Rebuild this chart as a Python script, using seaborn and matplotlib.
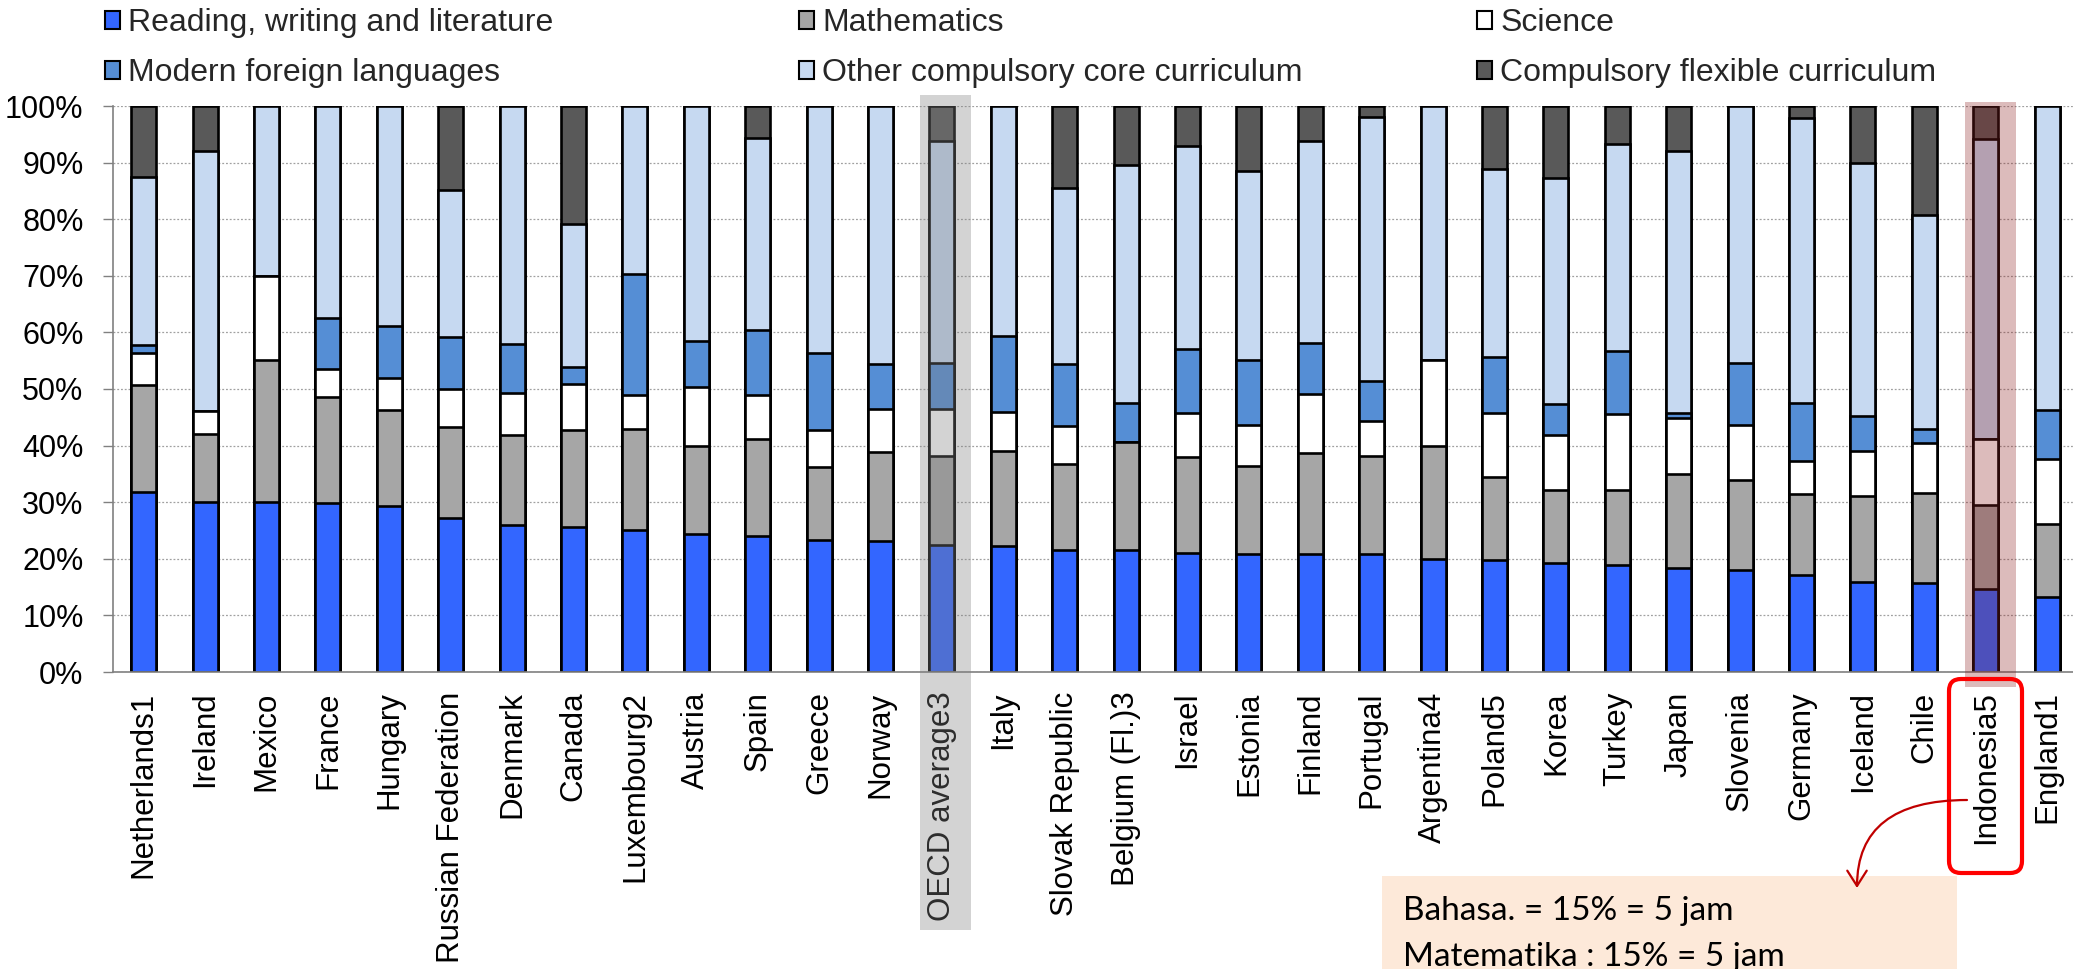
import matplotlib
matplotlib.use("Agg")
import matplotlib.pyplot as plt
import seaborn as sns
import pandas as pd
import numpy as np
from matplotlib.patches import Patch, Rectangle, FancyBboxPatch, FancyArrowPatch
from matplotlib.transforms import blended_transform_factory, IdentityTransform

# ---------------- data ----------------
countries = ["Netherlands1", "Ireland", "Mexico", "France", "Hungary", "Russian Federation",
             "Denmark", "Canada", "Luxembourg2", "Austria", "Spain", "Greece", "Norway",
             "OECD average3", "Italy", "Slovak Republic", "Belgium (Fl.)3", "Israel", "Estonia",
             "Finland", "Portugal", "Argentina4", "Poland5", "Korea", "Turkey", "Japan",
             "Slovenia", "Germany", "Iceland", "Chile", "Indonesia5", "England1"]

reading = [31.8, 30.1, 30.1, 29.9, 29.3, 27.2, 25.9, 25.7, 25.1, 24.3, 24.0, 23.4, 23.2,
           22.4, 22.3, 21.6, 21.6, 21.1, 20.9, 20.8, 20.8, 19.9, 19.8, 19.3, 18.9, 18.4,
           18.1, 17.2, 15.9, 15.7, 14.7, 13.2]
mathematics = [18.9, 12.0, 25.0, 18.7, 17.0, 16.0, 16.0, 17.1, 17.8, 15.6, 17.2, 12.8, 15.7,
               15.8, 16.7, 15.1, 19.0, 16.9, 15.5, 17.9, 17.4, 20.0, 14.7, 12.9, 13.3, 16.5,
               15.9, 14.3, 15.2, 15.9, 14.8, 13.0]
science = [5.7, 4.0, 14.9, 4.9, 5.7, 6.8, 7.4, 8.0, 6.0, 10.4, 7.7, 6.6, 7.5,
           8.2, 7.0, 6.7, 0.0, 7.8, 7.2, 10.5, 6.1, 15.2, 11.2, 9.7, 13.4, 9.9,
           9.6, 5.7, 8.0, 8.8, 11.7, 11.5]
modern_languages = [1.4, 0.0, 0.0, 9.1, 9.1, 9.1, 8.7, 3.0, 21.4, 8.1, 11.6, 13.6, 8.1,
                    8.2, 13.3, 11.0, 7.0, 11.2, 11.5, 8.9, 7.1, 0.0, 9.9, 5.4, 11.2, 1.0,
                    11.0, 10.4, 6.2, 2.6, 0.0, 8.6]
other_core = [29.7, 46.0, 30.0, 37.4, 38.9, 26.1, 42.0, 25.3, 29.7, 41.6, 33.8, 43.6, 45.5,
              39.2, 40.7, 31.1, 42.0, 36.0, 33.5, 35.8, 46.6, 44.9, 33.3, 39.9, 36.5, 46.2,
              45.4, 50.2, 44.6, 37.8, 52.9, 53.7]
flexible = [12.5, 7.9, 0.0, 0.0, 0.0, 14.8, 0.0, 20.9, 0.0, 0.0, 5.7, 0.0, 0.0,
            6.2, 0.0, 14.5, 10.4, 7.0, 11.4, 6.1, 2.0, 0.0, 11.1, 12.8, 6.7, 8.0,
            0.0, 2.2, 10.1, 19.2, 5.9, 0.0]

series_names = ["Reading, writing and literature", "Mathematics", "Science",
                "Modern foreign languages", "Other compulsory core curriculum",
                "Compulsory flexible curriculum"]
series_colors = ["#3366ff", "#a6a6a6", "#ffffff", "#558ed5", "#c6d9f1", "#595959"]

ytick_values = [0, 10, 20, 30, 40, 50, 60, 70, 80, 90, 100]
ytick_labels = ["0%", "10%", "20%", "30%", "40%", "50%", "60%", "70%", "80%", "90%", "100%"]

note_lines = ["Bahasa. = 15% = 5 jam", "Matematika : 15% = 5 jam"]
highlight_grey = "OECD average3"
highlight_red = "Indonesia5"

# ---------------- style ----------------
sns.set_theme(style="white")
plt.rcParams["font.family"] = ["Liberation Sans", "DejaVu Sans"]

W, H = 2073, 969
fig = plt.figure(figsize=(W / 100, H / 100), dpi=100)
ax = fig.add_axes([113 / W, (H - 672) / H, (W - 113) / W, 566 / H])

layers = np.array([reading, mathematics, science, modern_languages, other_core, flexible])
cum = np.cumsum(layers, axis=0)
cum[-1] = np.minimum(cum[-1], 100.0)

for i in reversed(range(len(series_names))):
    d = pd.DataFrame({"country": countries, "value": cum[i]})
    sns.barplot(data=d, x="country", y="value", order=countries,
                color=series_colors[i], saturation=1, width=0.41,
                edgecolor="black", linewidth=1.9, errorbar=None, ax=ax, zorder=2)

ax.set_ylim(0, 100)
ax.set_xlim(-0.5, -0.5 + (W - 113) / 61.4)
ax.set_xlabel("")
ax.set_ylabel("")
ax.set_axisbelow(True)
ax.yaxis.grid(True, color="#a0a0a0", linestyle=(0, (1.5, 1.5)), linewidth=0.9)
ax.xaxis.grid(False)

ax.set_yticks(ytick_values, ytick_labels)
ax.set_xticks(range(len(countries)), countries, rotation=90, ha="center", va="top")
ax.tick_params(axis="y", left=True, length=7.2, width=1, color="#808080", pad=14,
               labelsize=22, labelcolor="black")
ax.tick_params(axis="x", bottom=False, length=0, pad=14, labelsize=22.5, labelcolor="black")

for s in ["top", "right"]:
    ax.spines[s].set_visible(False)
for s in ["left", "bottom"]:
    ax.spines[s].set_color("#808080")
    ax.spines[s].set_linewidth(1.2)

# ---------------- legend ----------------
handles = [Patch(facecolor=c, edgecolor="black", linewidth=1.5) for c in series_colors]
legend_groups = [(0, 3), (1, 4), (2, 5)]
legend_x = [105 / W, 799 / W, 1477 / W]
for (a, b), lx in zip(legend_groups, legend_x):
    fig.legend([handles[a], handles[b]], [series_names[a], series_names[b]],
               loc="upper left", bbox_to_anchor=(lx, 1.0 - 8 / H), frameon=False,
               fontsize=23, handlelength=0.48, handleheight=0.48, handletextpad=0.25,
               labelspacing=0.63, borderpad=0, borderaxespad=0)

# ---------------- highlights ----------------
trans = blended_transform_factory(ax.transData, ax.transAxes)
gi = countries.index(highlight_grey)
fig.add_artist(Rectangle((gi - 0.415 + 0.06, -0.456), 0.83, 1.019 + 0.456, transform=trans,
                         facecolor=(130 / 255, 130 / 255, 130 / 255), alpha=0.35,
                         edgecolor="none", zorder=10, clip_on=False))
ri = countries.index(highlight_red)
fig.add_artist(Rectangle((ri - 0.415 + 0.08, -0.0265), 0.83, 1.007 + 0.0265, transform=trans,
                         facecolor=(140 / 255, 30 / 255, 30 / 255), alpha=0.3,
                         edgecolor="none", zorder=10, clip_on=False))

ident = IdentityTransform()
fig.add_artist(FancyBboxPatch((1949, H - 873), 73, 873 - 679,
                              boxstyle="round,pad=0,rounding_size=12", transform=ident,
                              fill=False, edgecolor="#ff0000", linewidth=3, zorder=11))

# ---------------- note box ----------------
fig.add_artist(Rectangle((1382 / W, 0), 575 / W, (H - 876) / H, transform=fig.transFigure,
                         facecolor="#fde9d9", edgecolor="none", zorder=9))
fig.text(1403 / W, (H - 920) / H, note_lines[0], fontsize=24, va="baseline",
         family=["Lato", "DejaVu Sans"], color="black", zorder=12)
fig.text(1403 / W, (H - 966) / H, note_lines[1], fontsize=24, va="baseline",
         family=["Lato", "DejaVu Sans"], color="black", zorder=12)

fig.add_artist(FancyArrowPatch(posA=(1967, H - 800), posB=(1857, H - 888), transform=ident,
                               connectionstyle="angle3,angleA=180,angleB=90",
                               arrowstyle="->,head_length=1.1,head_width=0.7",
                               mutation_scale=10, shrinkA=0, shrinkB=0,
                               color="#c00000", linewidth=1.6, zorder=13))

fig.savefig("out.png", dpi=100)
